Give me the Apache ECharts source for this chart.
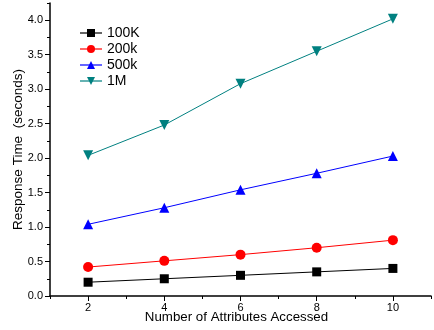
<!DOCTYPE html>
<html><head><meta charset="utf-8">
<script src="https://cdn.jsdelivr.net/npm/echarts@6/dist/echarts.min.js"></script>
<style>html,body{margin:0;padding:0;background:#fff}#c{width:434px;height:330px}</style>
</head><body><div id="c"></div>
<script>
var xValues = [2, 4, 6, 8, 10];
var s100K = [0.20, 0.25, 0.30, 0.35, 0.40];
var s200k = [0.42, 0.51, 0.60, 0.70, 0.81];
var s500k = [1.04, 1.28, 1.54, 1.78, 2.03];
var s1M = [2.04, 2.48, 3.08, 3.55, 4.02];
var seriesNames = ['100K', '200k', '500k', '1M'];
var xTickLabels = [2, 4, 6, 8, 10];
var yTickLabels = [0, 0.5, 1.0, 1.5, 2.0, 2.5, 3.0, 3.5, 4.0];
var yMinorTicks = [0.25, 0.75, 1.25, 1.75, 2.25, 2.75, 3.25, 3.75, 4.25];
var xMinorTicks = [1, 3, 5, 7, 9, 11];

function pairs(vals){ return xValues.map(function(x,i){ return [x, vals[i]]; }); }
var font = 'Liberation Sans, Arial, sans-serif';
var chart = echarts.init(document.getElementById('c'));
var colors = ['#000000', '#ff0000', '#0000ff', '#008080'];
var symbols = ['rect', 'circle', 'triangle', 'triangle'];
var sizes = [9, 10, 10, 10];
var rot = [0, 0, 0, 180];
var data = [s100K, s200k, s500k, s1M];
var series = seriesNames.map(function(n, i){
  return {
    name: n, type: 'line', data: pairs(data[i]),
    xAxisIndex: 0, yAxisIndex: 0,
    symbol: symbols[i], symbolSize: sizes[i], symbolRotate: rot[i],
    lineStyle: {color: colors[i], width: 1},
    itemStyle: {color: colors[i], opacity: 1},
    emphasis: {disabled: true}, animation: false
  };
});
var axisLineStyle = {show: true, lineStyle: {color: '#000', width: 1.5}};
chart.setOption({
  animation: false,
  grid: {left: 50, right: 3, top: 3, bottom: 34, containLabel: false, outerBoundsMode: 'none'},
  legend: {
    orient: 'vertical', left: 74, top: 21, itemWidth: 22, itemHeight: 10, itemGap: 2,
    textStyle: {fontFamily: font, fontSize: 14, color: '#000'},
    data: seriesNames.map(function(n,i){ return {name: n, itemStyle: {color: colors[i]}, lineStyle: {color: colors[i], opacity: 0.6}}; })
  },
  xAxis: [{
    type: 'value', min: 1, max: 11,
    name: 'Number of Attributes Accessed', nameLocation: 'middle', nameGap: 15, nameMoveOverlap: false,
    nameTextStyle: {fontFamily: font, fontSize: 13.3, color: '#000', padding: [0, 8, 0, 0]},
    axisLine: axisLineStyle,
    axisTick: {show: true, customValues: xTickLabels, length: 5, lineStyle: {color: '#000'}},
    axisLabel: {customValues: xTickLabels, fontFamily: font, fontSize: 11, color: '#000', margin: 6},
    splitLine: {show: false}
  }, {
    type: 'value', min: 1, max: 11, position: 'bottom',
    axisLine: {show: false},
    axisTick: {show: true, customValues: xMinorTicks, length: 3, lineStyle: {color: '#000'}},
    axisLabel: {show: false}, splitLine: {show: false}
  }],
  yAxis: [{
    type: 'value', min: 0, max: 4.25,
    name: 'Response Time  (seconds)', nameLocation: 'middle', nameGap: 25, nameMoveOverlap: false,
    nameTextStyle: {fontFamily: font, fontSize: 13.5, color: '#000'},
    axisLine: axisLineStyle,
    axisTick: {show: true, customValues: yTickLabels, length: 5, lineStyle: {color: '#000'}},
    axisLabel: {customValues: yTickLabels, fontFamily: font, fontSize: 11, color: '#000', margin: 7,
      formatter: function(v){ return v.toFixed(1); }},
    splitLine: {show: false}
  }, {
    type: 'value', min: 0, max: 4.25, position: 'left',
    axisLine: {show: false},
    axisTick: {show: true, customValues: yMinorTicks, length: 3, lineStyle: {color: '#000'}},
    axisLabel: {show: false}, splitLine: {show: false}
  }],
  series: series
});
</script></body></html>
